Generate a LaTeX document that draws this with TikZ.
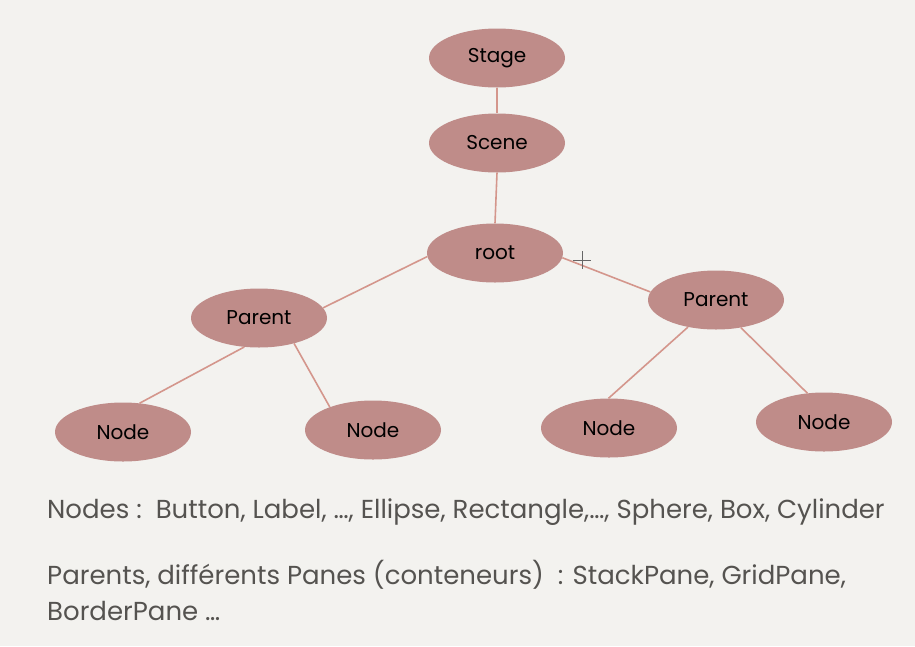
\documentclass[tikz,border=0pt]{standalone}
\usepackage{fontspec}
\setmainfont{Poppins}
\usetikzlibrary{shapes.geometric}
\definecolor{fond}{HTML}{F3F2EF}
\definecolor{bulle}{HTML}{BF8C89}
\definecolor{trait}{HTML}{D4968C}
\definecolor{texte}{HTML}{555350}
\tikzset{
	bulle/.style={ellipse, fill=bulle, minimum width=136pt, minimum height=59pt,
		inner sep=0pt, font=\fontsize{20}{24}\selectfont},
	lien/.style={draw=trait, line width=1.6pt},
	legende/.style={anchor=base west, inner sep=0pt, text=texte, font=\fontsize{26}{30}\selectfont}
}
\newcommand{\bul}[3]{\node[bulle] (#1) at (#2) {#3}}
\newcommand{\lie}[2]{\draw[lien] (#1) -- (#2)}

\begin{document}
\begin{tikzpicture}[x=1pt,y=-1pt]
	\fill[fond] (0,0) rectangle (915,646);
	\useasboundingbox (0,0) rectangle (915,646);
	\bul{stage}{497,58}{Stage};
	\bul{scene}{497,143}{Scene};
	\bul{root}{495,253}{root};
	\bul{pg}{259,318}{Parent};
	\bul{pd}{716,300}{Parent};
	\bul{n1}{123,432}{Node};
	\bul{n2}{373,430}{Node};
	\bul{n3}{609,428}{Node};
	\bul{n4}{824,422}{Node};
	\lie{stage.south}{scene.north};
	\lie{scene.south}{root.north};
	\lie{root.183}{pg.9};
	\lie{root.356}{pd.173};
	\lie{pg.243}{n1.60};
	\lie{pg.324}{n2.152};
	\lie{pd.224}{n3.91};
	\lie{pd.312}{n4.120};
	% curseur
	\draw[gray!80!black, line width=0.8pt] (573,260) -- (591,260) (582,251) -- (582,269);
	\node[legende] (l1) at (47,518) {Nodes :\ \ Button, Label, \dots, Ellipse, Rectangle,\dots, Sphere, Box, Cylinder};
	\node[legende] (l2) at (47,584) {Parents, différents Panes (conteneurs)\ \ : StackPane, GridPane,};
	\node[legende] (l3) at (47,620) {BorderPane \dots};
\end{tikzpicture}
\end{document}
